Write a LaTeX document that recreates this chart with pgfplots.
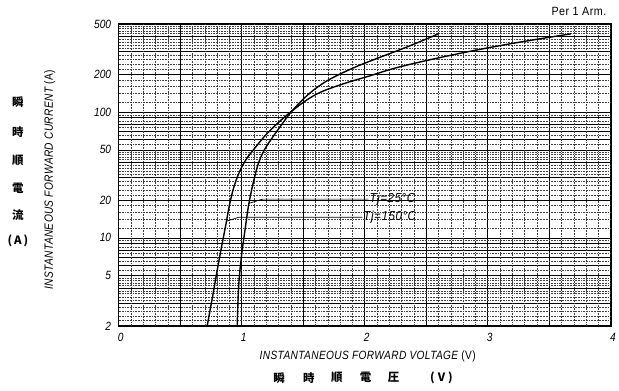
\documentclass[border=0pt]{standalone}
\usepackage{pgfplots}
\pgfplotsset{compat=1.18}
\usepackage{fontspec}
\setmainfont{Liberation Sans}
\newfontfamily\cond[FakeStretch=0.85]{Liberation Sans}
\newfontfamily\lab[FakeStretch=0.85,LetterSpace=3]{Liberation Sans}
\newfontfamily\labw[FakeStretch=0.9,LetterSpace=4]{Liberation Sans}
\newfontfamily\cjk{Noto Sans CJK JP}
\begin{document}
\begin{tikzpicture}
\begin{axis}[name=ax, scale only axis, width=494pt, height=303pt,
  xmin=0, xmax=4, ymode=log, ymin=2, ymax=500,
  xtick={0,1,2,3,4}, xticklabels={0,1,2,3,4},
  minor xtick={0.5,1.5,2.5,3.5},
  ytick={2,5,10,20,50,100,200,500}, yticklabels={2,5,10,20,50,100,200,500},
  minor ytick={3,4,6,7,8,9,30,40,60,70,80,90,300,400},
  extra x ticks={0.1,0.2,0.3,0.4,0.6,0.7,0.8,0.9,1.1,1.2,1.3,1.4,1.6,1.7,1.8,1.9,2.1,2.2,2.3,2.4,2.6,2.7,2.8,2.9,3.1,3.2,3.3,3.4,3.6,3.7,3.8,3.9},
  extra y ticks={2.2,2.4,2.6,2.8,3.2,3.4,3.6,3.8,4.2,4.4,4.6,4.8,5.5,6.5,7.5,8.5,9.5,12,14,16,18,22,24,26,28,32,34,36,38,42,44,46,48,55,65,75,85,95,120,140,160,180,220,240,260,280,320,340,360,380,420,440,460,480},
  extra x tick labels={}, extra y tick labels={},
  extra tick style={grid=major, major grid style={black!75, densely dotted, line width=0.45pt}},
  grid=both,
  major grid style={black, line width=0.6pt},
  minor grid style={black, line width=0.8pt},
  major tick length=0pt, minor tick length=0pt,
  axis line style={line width=1.3pt},
  /pgf/number format/assume math mode=true,
  tick label style={font=\cond\itshape\fontsize{12}{14}\selectfont},
  xticklabel style={yshift=-4pt, xshift=2pt},
  yticklabel style={xshift=-4pt},
  clip=true,
]
% Tj = 25 C
\addplot[black, line width=1.4pt, smooth, tension=0.6] coordinates {
  (0.964,2) (0.975,4) (0.996,6.8) (1.036,13.3) (1.06,19) (1.10,29) (1.14,40) (1.19,51) (1.247,62) (1.32,78) (1.41,102) (1.55,140) (1.7,178) (1.9,222) (2.1,266) (2.35,330) (2.6,417)};
% Tj = 150 C
\addplot[black, line width=1.4pt, smooth, tension=0.6] coordinates {
  (0.72,2) (0.77,3.7) (0.818,6.8) (0.87,12.5) (0.90,18) (0.935,25) (0.98,33) (1.03,41) (1.085,48.5) (1.223,70) (1.41,102) (1.6,137) (1.8,164) (2.03,192) (2.3,230) (2.76,290) (3.2,350) (3.675,417)};
\draw[black, line width=0.7pt] (axis cs:1.06,18.8) -- (axis cs:1.17,20.3) -- (axis cs:2.03,20.3);
\draw[black, line width=0.7pt] (axis cs:0.88,13.6) -- (axis cs:0.98,14.6) -- (axis cs:1.98,14.6);
\node[anchor=west, inner sep=1pt, font=\labw\itshape\fontsize{13}{15}\selectfont] at (axis cs:2.03,20.3) {Tj=25°C};
\node[anchor=west, inner sep=1pt, font=\labw\itshape\fontsize{13}{15}\selectfont] at (axis cs:1.98,14.6) {Tj=150°C};
\end{axis}
% outer texts
\node[anchor=east, font=\labw\fontsize{12}{14}\selectfont] at ([xshift=-1pt,yshift=13pt]ax.north east) {Per 1 Arm.};
\node[font=\lab\itshape\fontsize{12}{14}\selectfont] at ([xshift=3pt,yshift=-31pt]ax.south) {INSTANTANEOUS FORWARD VOLTAGE {\upshape(V)}};
\node[rotate=90, font=\lab\itshape\fontsize{12}{14}\selectfont] at ([xshift=-69pt,yshift=-5pt]ax.west) {INSTANTANEOUS FORWARD CURRENT {\upshape(A)}};
\begin{scope}[every node/.style={font=\cjk\bfseries\fontsize{11.5}{12}\selectfont, inner sep=0pt}]
\node at ([xshift=161pt,yshift=-52pt]ax.south west) {瞬};
\node at ([xshift=191pt,yshift=-52pt]ax.south west) {時};
\node at ([xshift=219pt,yshift=-52pt]ax.south west) {順};
\node at ([xshift=248pt,yshift=-52pt]ax.south west) {電};
\node at ([xshift=276pt,yshift=-52pt]ax.south west) {圧};
\node at ([xshift=324pt,yshift=-52pt]ax.south west) {(\hspace{3pt}V\hspace{3pt})};
\node at ([xshift=-101pt,yshift=-79pt]ax.north west) {瞬};
\node at ([xshift=-101pt,yshift=-109pt]ax.north west) {時};
\node at ([xshift=-101pt,yshift=-137pt]ax.north west) {順};
\node at ([xshift=-101pt,yshift=-165pt]ax.north west) {電};
\node at ([xshift=-101pt,yshift=-192pt]ax.north west) {流};
\node at ([xshift=-101pt,yshift=-218pt]ax.north west) {(\hspace{2pt}A\hspace{2pt})};
\end{scope}
\path ([xshift=-119pt,yshift=-65pt]ax.south west) rectangle ([xshift=6pt,yshift=24pt]ax.north east);
\end{tikzpicture}
\end{document}
